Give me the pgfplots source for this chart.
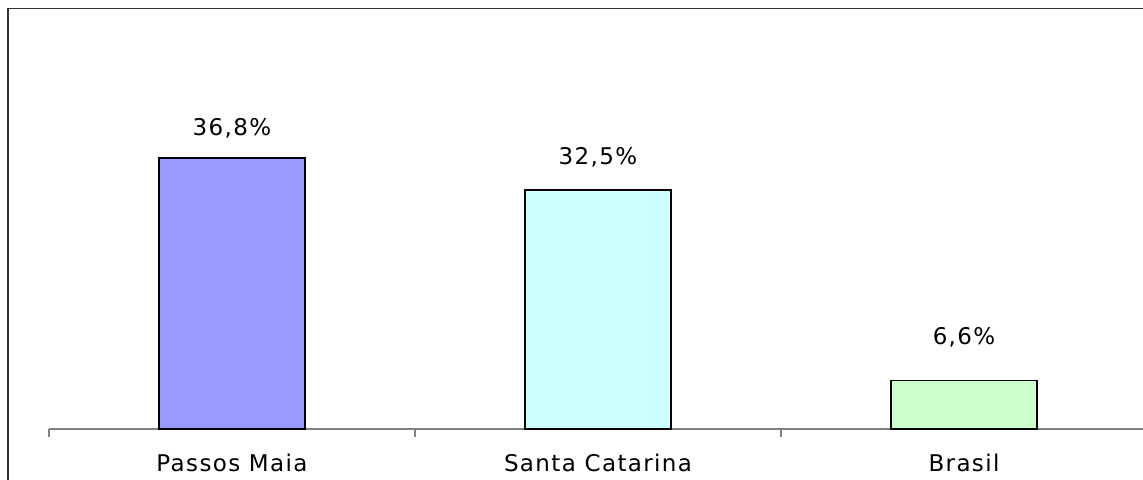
\documentclass[border=0pt]{standalone}
\usepackage{fontspec}
\setmainfont{DejaVu Sans}[LetterSpace=6]
\usepackage{pgfplots}
\pgfplotsset{compat=1.18}
\definecolor{barA}{HTML}{9999FF}
\definecolor{barB}{HTML}{CCFFFF}
\definecolor{barC}{HTML}{CCFFCC}
\definecolor{frameline}{HTML}{333333}
\definecolor{axisline}{HTML}{808080}
\begin{document}
\begin{tikzpicture}[x=0.5pt,y=0.5pt]
\useasboundingbox (0,0) rectangle (1143,480);
% chart area frame
\draw[line width=0.8pt, frameline] (8,0) -- (8,471.5) -- (1143,471.5);
\begin{axis}[
  at={(24.5pt,25.5pt)}, anchor=south west,
  scale only axis, width=547pt, height=165.6pt,
  xmin=-0.5, xmax=2.489, ymin=0, ymax=45,
  axis x line*=bottom, axis y line=none,
  x axis line style={draw=axisline, line width=0.7pt},
  xtick={0,1,2},
  xticklabels={Passos Maia, Santa Catarina, Brasil},
  major tick length=0pt,
  minor xtick={-0.5,0.5,1.5},
  minor tick length=4pt,
  tick align=outside,
  minor tick style={draw=axisline, line width=0.7pt},
  xticklabel style={font=\fontsize{11.5}{13}\selectfont, anchor=base, yshift=-21.5pt},
  ybar, bar width=73pt, bar shift=0pt,
  clip=false,
  /pgf/number format/assume math mode=true,
  nodes near coords={\pgfmathprintnumber[fixed,fixed zerofill,precision=1,use comma]{\pgfplotspointmeta}\%},
  every node near coord/.append style={font=\fontsize{11.5}{13}\selectfont, anchor=base, text=black},
]
\addplot[fill=barA, draw=black, line width=0.9pt,
  every node near coord/.append style={yshift=11.5pt}] coordinates {(0,36.8)};
\addplot[fill=barB, draw=black, line width=0.9pt,
  every node near coord/.append style={yshift=12.5pt}] coordinates {(1,32.5)};
\addplot[fill=barC, draw=black, line width=0.9pt,
  every node near coord/.append style={yshift=18pt}] coordinates {(2,6.6)};
\end{axis}
\end{tikzpicture}
\end{document}
